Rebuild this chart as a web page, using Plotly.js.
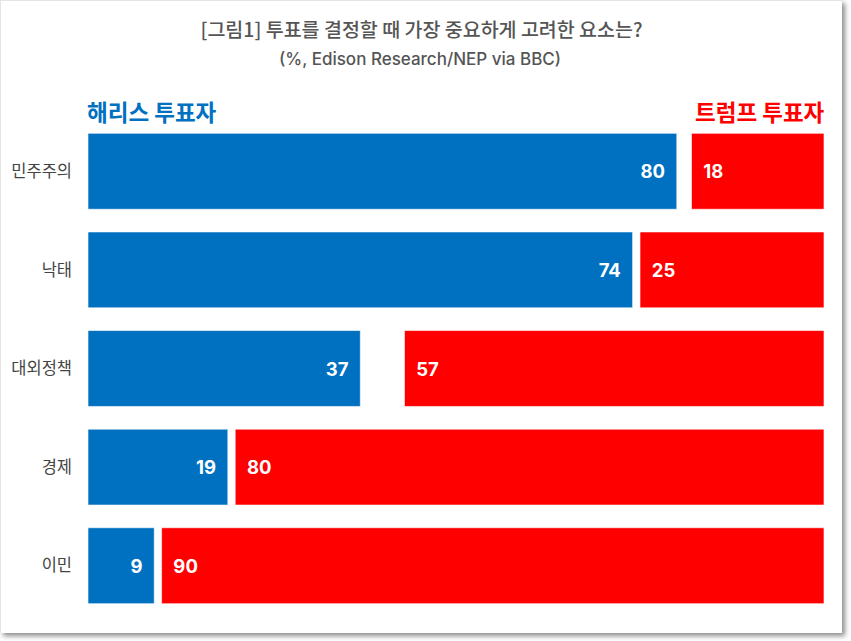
<!DOCTYPE html>
<html>
<head>
<meta charset="utf-8">
<script src="https://cdn.plot.ly/plotly-3.0.1.min.js"></script>
<style>
  body { margin: 0; background: #fff; }
  #frame {
    position: absolute; left: 0; top: 0;
    width: 841px; height: 632px;
    border-left: 1px solid #e4e4e4; border-top: 1px solid #e4e4e4;
    box-shadow: 3px 3px 5px rgba(0,0,0,0.45);
    background: #fff;
  }
  #graphDiv { width: 841px; height: 632px; }
</style>
</head>
<body>
<div id="frame"><div id="graphDiv"></div></div>
<script>
'use strict';

// 투표 결정 요소 (%, Edison Research/NEP via BBC)
const factors = ['민주주의', '낙태', '대외정책', '경제', '이민'];
const harris = [80, 74, 37, 19, 9];
const trump = [18, 25, 57, 80, 90];

const blue = '#0070C0';
const red = '#FF0000';
const nb = '\u00a0';

let harrisTrace = {
  type: 'bar', orientation: 'h',
  y: factors, x: harris,
  marker: { color: blue, line: { color: 'rgba(255,255,255,0.6)', width: 1 } },
  width: 0.77,
  text: harris.map(v => v + nb + nb),
  textposition: 'inside', insidetextanchor: 'end', constraintext: 'none',
  textfont: { color: '#fff', size: 18.5, family: 'Inter, "Noto Sans CJK KR"', weight: 700 },
  hoverinfo: 'none'
};

let trumpTrace = {
  type: 'bar', orientation: 'h',
  y: factors, x: trump,
  base: trump.map(v => 100 - v),
  marker: { color: red, line: { color: 'rgba(255,255,255,0.6)', width: 1 } },
  width: 0.77,
  text: trump.map(v => nb + nb + v),
  textposition: 'inside', insidetextanchor: 'start', constraintext: 'none',
  textfont: { color: '#fff', size: 18.5, family: 'Inter, "Noto Sans CJK KR"', weight: 700 },
  hoverinfo: 'none'
};

let layout = {
  width: 841, height: 632,
  margin: { l: 87, r: 18, t: 121, b: 18 },
  paper_bgcolor: '#fff', plot_bgcolor: '#fff',
  font: { family: 'Inter, "Noto Sans CJK KR"', color: '#444' },
  showlegend: false,
  barmode: 'overlay',
  title: {
    text: '[그림1] 투표를 결정할 때 가장 중요하게 고려한 요소는?',
    font: { size: 19.5, color: '#555', family: '"Noto Sans CJK KR"', weight: 500 },
    xref: 'container', x: 0.5, xanchor: 'center',
    yref: 'container', y: 1 - 29 / 632, yanchor: 'middle'
  },
  xaxis: { range: [0, 100], visible: false, fixedrange: true },
  yaxis: {
    autorange: 'reversed', showgrid: false, zeroline: false, showline: false,
    ticks: '', ticklabelstandoff: 15,
    tickfont: { size: 16.5, color: '#444', family: '"Noto Sans CJK KR"' }
  },
  annotations: [
    { text: '(%, Edison Research/NEP via BBC)', xref: 'paper', yref: 'paper',
      x: (420 - 88) / 736, y: (614 - 59) / 492, xanchor: 'center', yanchor: 'middle',
      showarrow: false, font: { size: 17, color: '#555', family: 'Inter, "Noto Sans CJK KR"', weight: 500 } },
    { text: '해리스 투표자', xref: 'paper', yref: 'paper', x: 0, y: (614 - 111) / 492,
      xanchor: 'left', yanchor: 'middle', showarrow: false, xshift: -3,
      font: { size: 22.5, color: blue, family: '"Noto Sans CJK KR"', weight: 700 } },
    { text: '트럼프 투표자', xref: 'paper', yref: 'paper', x: 1, y: (614 - 111) / 492,
      xanchor: 'right', yanchor: 'middle', showarrow: false, xshift: 3,
      font: { size: 22.5, color: red, family: '"Noto Sans CJK KR"', weight: 700 } }
  ]
};

Plotly.newPlot('graphDiv', [harrisTrace, trumpTrace], layout, { displayModeBar: false, staticPlot: true });
</script>
</body>
</html>
